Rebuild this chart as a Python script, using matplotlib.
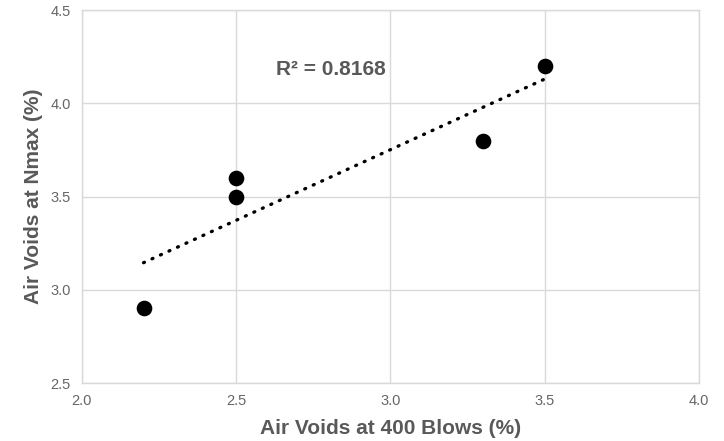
import numpy as np
import matplotlib.pyplot as plt

plt.rcParams['font.family'] = ['Liberation Sans', 'DejaVu Sans']

# 数据
air_voids_400 = [2.2, 2.5, 2.5, 3.3, 3.5]
air_voids_nmax = [2.9, 3.6, 3.5, 3.8, 4.2]
x_ticks = [2.0, 2.5, 3.0, 3.5, 4.0]
y_ticks = [2.5, 3.0, 3.5, 4.0, 4.5]

# 线性趋势线及 R²
slope, intercept = np.polyfit(air_voids_400, air_voids_nmax, 1)
y_fit = np.polyval([slope, intercept], air_voids_400)
ss_res = np.sum((np.array(air_voids_nmax) - y_fit) ** 2)
ss_tot = np.sum((np.array(air_voids_nmax) - np.mean(air_voids_nmax)) ** 2)
r2 = 1 - ss_res / ss_tot

fig = plt.figure(figsize=(7.24, 4.41), dpi=100)
ax = fig.add_axes([0.113, 0.1315, 0.8525, 0.8455])

x_line = np.array([min(air_voids_400), max(air_voids_400)])
ax.plot(x_line, slope * x_line + intercept, color='black', linewidth=2.4,
        linestyle=(0, (0.3, 2.5)), dash_capstyle='round', zorder=3)
ax.scatter(air_voids_400, air_voids_nmax, s=105, color='black', zorder=4)

ax.text(2.63, 4.18, f'R² = {r2:.4f}', fontsize=15, fontweight='bold',
        color='#595959', va='center', ha='left')

ax.set_xlim(2.0, 4.0)
ax.set_ylim(2.5, 4.5)
ax.set_xticks(x_ticks)
ax.set_yticks(y_ticks)
ax.set_xticklabels([f'{t:.1f}' for t in x_ticks])
ax.set_yticklabels([f'{t:.1f}' for t in y_ticks])
ax.tick_params(length=0, labelsize=10.5, colors='#666666', pad=8)
ax.grid(True, color='#d9d9d9', linewidth=1, zorder=0)
ax.set_axisbelow(True)
for sp in ax.spines.values():
    sp.set_color('#d9d9d9')
    sp.set_linewidth(1)

ax.set_xlabel('Air Voids at 400 Blows (%)', fontsize=15, fontweight='bold',
              color='#595959', labelpad=8)
ax.set_ylabel('Air Voids at Nmax (%)', fontsize=15, fontweight='bold',
              color='#595959', labelpad=5)

fig.savefig('out.png', dpi=100)
